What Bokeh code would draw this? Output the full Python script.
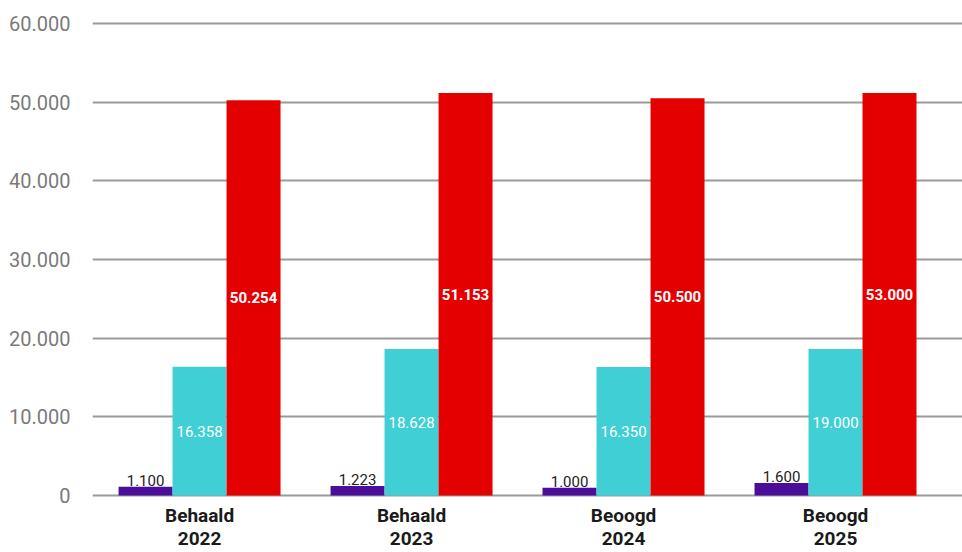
from bokeh.plotting import figure
from bokeh.models import ColumnDataSource, Range1d, FixedTicker
from bokeh.transform import dodge
from bokeh.core.properties import value
from bokeh.embed import file_html
from bokeh.resources import INLINE

# ---- data ----
categories = ["Behaald\n2022", "Behaald\n2023", "Beoogd\n2024", "Beoogd\n2025"]
# bar heights as drawn in the picture
purple_vals = [1100, 1223, 1000, 1600]
cyan_vals = [16358, 18628, 16350, 18628]
red_vals = [50254, 51153, 50500, 51153]
# data labels as printed on the bars
purple_labels = ["1.100", "1.223", "1.000", "1.600"]
cyan_labels = ["16.358", "18.628", "16.350", "19.000"]
red_labels = ["50.254", "51.153", "50.500", "53.000"]
y_ticks = [0, 10000, 20000, 30000, 40000, 50000, 60000]
y_tick_labels = ["0", "10.000", "20.000", "30.000", "40.000", "50.000", "60.000"]

PURPLE = "#4a0e9a"
CYAN = "#3fcfd5"
RED = "#e50000"
FONT = "Roboto"

idx = list(range(len(categories)))
src = ColumnDataSource(dict(
    x=idx,
    purple=purple_vals, cyan=cyan_vals, red=red_vals,
    cyan_mid=[v / 2 for v in cyan_vals], red_mid=[v / 2 for v in red_vals],
    plab=purple_labels, clab=cyan_labels, rlab=red_labels,
))

bw = 0.2547
pad = 2 * 10000 / 79  # 2px of room so the outer gridlines are not clipped

p = figure(width=962, height=552, output_backend="svg", toolbar_location=None,
           x_range=Range1d(-0.505, 3.599), y_range=Range1d(-pad, 60000 + pad),
           min_border_left=92, min_border_right=0, min_border_top=21,
           min_border_bottom=53)
p.outline_line_color = None
p.background_fill_color = "white"
p.border_fill_color = "white"

p.vbar(x=dodge("x", -bw, range=p.x_range), top="purple", width=bw, source=src,
       fill_color=PURPLE, line_color=None)
p.vbar(x=dodge("x", 0, range=p.x_range), top="cyan", width=bw, source=src,
       fill_color=CYAN, line_color=None)
p.vbar(x=dodge("x", bw, range=p.x_range), top="red", width=bw, source=src,
       fill_color=RED, line_color=None)

p.text(x=dodge("x", -bw, range=p.x_range), y="purple", text="plab", source=src,
       text_font=value(FONT), text_font_size="15px", text_color="#222222",
       text_align="center", text_baseline="bottom", y_offset=-1)
p.text(x=dodge("x", 0, range=p.x_range), y="cyan_mid", text="clab", source=src,
       text_font=value(FONT), text_font_size="15px", text_color="white",
       text_align="center", text_baseline="middle")
p.text(x=dodge("x", bw, range=p.x_range), y="red_mid", text="rlab", source=src,
       text_font=value(FONT), text_font_size="15px", text_color="white",
       text_font_style="bold", text_align="center", text_baseline="middle")

# axes
p.xaxis.ticker = FixedTicker(ticks=idx)
p.xaxis.major_label_overrides = {i: c for i, c in zip(idx, categories)}
p.xaxis.axis_line_color = None
p.xaxis.major_tick_line_color = None
p.xaxis.minor_tick_line_color = None
p.xaxis.major_tick_in = 0
p.xaxis.major_tick_out = 0
p.xaxis.major_label_standoff = 6
p.xaxis.major_label_text_font = FONT
p.xaxis.major_label_text_font_size = "19px"
p.xaxis.major_label_text_font_style = "bold"
p.xaxis.major_label_text_color = "#1a1a1a"
p.xaxis.major_label_text_line_height = 1.0

p.yaxis.ticker = FixedTicker(ticks=y_ticks)
p.yaxis.major_label_overrides = {t: l for t, l in zip(y_ticks, y_tick_labels)}
p.yaxis.axis_line_color = None
p.yaxis.major_tick_line_color = None
p.yaxis.minor_tick_line_color = None
p.yaxis.major_tick_in = 0
p.yaxis.major_tick_out = 0
p.yaxis.major_label_standoff = 22
p.yaxis.major_label_text_font = FONT
p.yaxis.major_label_text_font_size = "20px"
p.yaxis.major_label_text_color = "#7a7a7a"

p.xgrid.grid_line_color = None
p.ygrid.grid_line_color = "#9a9a9a"
p.ygrid.grid_line_width = 2
p.ygrid.level = "underlay"

open("out.html", "w").write(file_html(p, INLINE))
